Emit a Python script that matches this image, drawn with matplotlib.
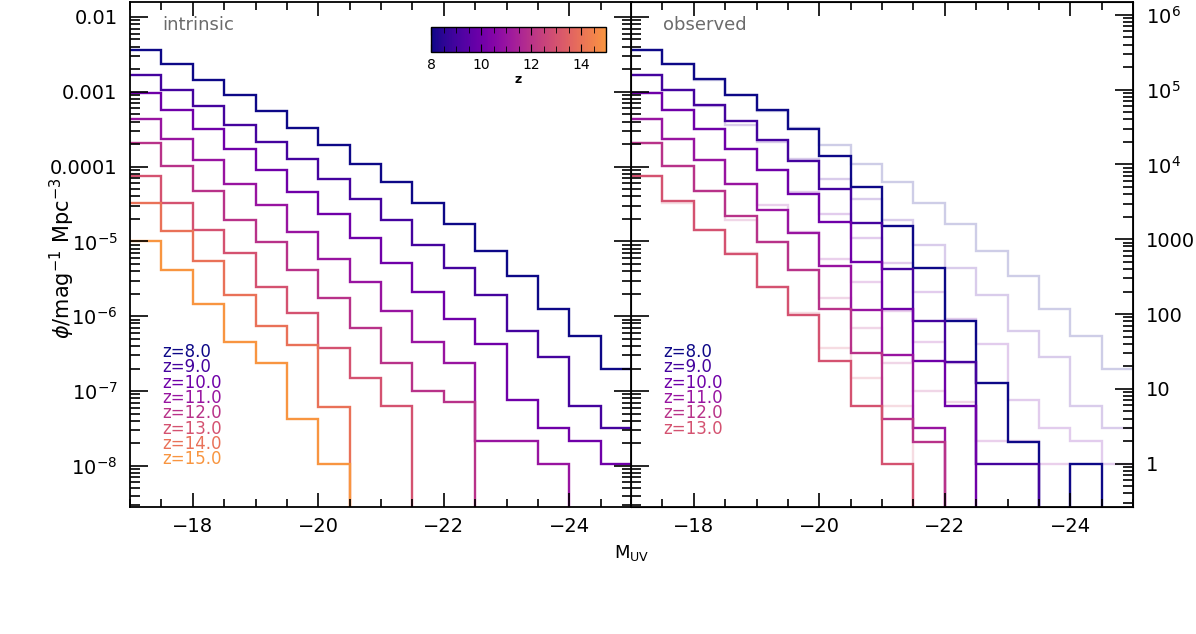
import numpy as np
import matplotlib
matplotlib.use("Agg")
import matplotlib.pyplot as plt
from matplotlib.colors import LinearSegmentedColormap, Normalize
from matplotlib.ticker import FixedLocator, MultipleLocator, NullFormatter

# 0.5 mag bins from M_UV = -17 to -25
edges = -17 - 0.5 * np.arange(17)
redshifts = [8, 9, 10, 11, 12, 13, 14, 15]

# log10 phi [mag^-1 Mpc^-3] per bin, None = empty bin
intr_z8 = [-2.44, -2.63, -2.84, -3.04, -3.26, -3.49, -3.71, -3.96, -4.21, -4.48, -4.77, -5.13, -5.46, -5.90, -6.26, -6.71]
intr_z9 = [-2.77, -2.98, -3.19, -3.44, -3.67, -3.90, -4.17, -4.43, -4.72, -5.05, -5.36, -5.72, -6.20, -6.54, -7.20, -7.50]
intr_z10 = [-3.01, -3.25, -3.50, -3.77, -4.05, -4.34, -4.64, -4.95, -5.29, -5.67, -6.04, -6.37, -7.12, -7.50, -7.67, -7.97]
intr_z11 = [-3.37, -3.63, -3.91, -4.23, -4.51, -4.87, -5.23, -5.54, -5.93, -6.35, -6.62, -7.67, -7.67, -7.97, None, None]
intr_z12 = [-3.69, -3.99, -4.33, -4.72, -5.01, -5.38, -5.75, -6.16, -6.62, -7.00, -7.14, None, None, None, None, None]
intr_z13 = [-4.12, -4.48, -4.85, -5.16, -5.61, -5.96, -6.42, -6.82, -7.20, None, None, None, None, None, None, None]
intr_z14 = [-4.48, -4.86, -5.26, -5.72, -6.13, -6.38, -7.21, None, None, None, None, None, None, None, None, None]
intr_z15 = [-4.99, -5.38, -5.84, -6.34, -6.62, -7.37, -7.97, None, None, None, None, None, None, None, None, None]

obs_z8 = [-2.44, -2.63, -2.83, -3.04, -3.25, -3.50, -3.86, -4.27, -4.80, -5.36, -6.06, -6.89, -7.68, None, -7.97, None]
obs_z9 = [-2.77, -2.97, -3.18, -3.39, -3.65, -3.92, -4.30, -4.75, -5.37, -6.06, -6.61, -7.97, -7.97, None, None, None]
obs_z10 = [-3.01, -3.25, -3.50, -3.76, -4.05, -4.36, -4.74, -5.27, -5.91, -6.60, -7.20, None, None, None, None, None]
obs_z11 = [-3.37, -3.63, -3.91, -4.23, -4.58, -4.89, -5.33, -5.92, -6.52, -7.50, None, None, None, None, None, None]
obs_z12 = [-3.69, -3.99, -4.33, -4.66, -5.01, -5.38, -5.91, -6.49, -7.37, -7.68, None, None, None, None, None, None]
obs_z13 = [-4.12, -4.46, -4.85, -5.17, -5.61, -5.99, -6.60, -7.20, -7.97, None, None, None, None, None, None, None]

intrinsic = [intr_z8, intr_z9, intr_z10, intr_z11, intr_z12, intr_z13, intr_z14, intr_z15]
observed = [obs_z8, obs_z9, obs_z10, obs_z11, obs_z12, obs_z13]

count_unit = 1.07e-8  # phi of a single object in a bin

left_ticks = [1e-2, 1e-3, 1e-4, 1e-5, 1e-6, 1e-7, 1e-8]
left_labels = ["0.01", "0.001", "0.0001", r"10$^{-5}$", r"10$^{-6}$", r"10$^{-7}$", r"10$^{-8}$"]
right_ticks = [1, 10, 100, 1000, 1e4, 1e5, 1e6]
right_labels = ["1", "10", "100", "1000", r"10$^4$", r"10$^5$", r"10$^6$"]


def to_phi(vals):
    return 10.0 ** np.array([v if v is not None else -30 for v in vals], dtype=float)


cmap = LinearSegmentedColormap.from_list("plasma_cut", plt.cm.plasma(np.linspace(0, 0.75, 256)))
norm = Normalize(8, 15)

plt.rcParams["font.family"] = "DejaVu Sans"
plt.rcParams["mathtext.fontset"] = "dejavusans"

fig = plt.figure(figsize=(11.96, 6.34), dpi=100)
W, H = 1196, 634
ax_l = fig.add_axes([130 / W, 1 - 507 / H, 502 / W, 505 / H])
ax_r = fig.add_axes([631 / W, 1 - 507 / H, 502 / W, 505 / H])

ylim = (10 ** -8.55, 10 ** -1.8)

for ax in (ax_l, ax_r):
    ax.set_yscale("log")
    ax.set_xlim(-17, -25)
    ax.set_ylim(*ylim)
    ax.xaxis.set_major_locator(FixedLocator([-18, -20, -22, -24]))
    ax.xaxis.set_minor_locator(MultipleLocator(0.5))
    ax.set_xticklabels(["\u221218", "\u221220", "\u221222", "\u221224"])
    ax.yaxis.set_major_locator(FixedLocator(left_ticks))
    ax.yaxis.set_minor_locator(FixedLocator([m * 10.0 ** e for e in range(-10, -1) for m in range(2, 10)]))
    ax.yaxis.set_minor_formatter(NullFormatter())
    ax.tick_params(which="both", direction="in", top=True, right=True, labelsize=14, width=1.2)
    ax.tick_params(axis="x", which="major", length=10, pad=7)
    ax.tick_params(axis="x", which="minor", length=6)
    ax.tick_params(axis="y", which="major", length=13)
    ax.tick_params(axis="y", which="minor", length=7)
    for s in ax.spines.values():
        s.set_linewidth(1.3)

ax_l.set_yticklabels(left_labels)
ax_l.tick_params(axis="y", pad=9)
ax_r.tick_params(axis="y", labelleft=False, right=False)

# intrinsic panel
for z, vals in zip(redshifts, intrinsic):
    ax_l.stairs(to_phi(vals), edges, baseline=None, color=cmap(norm(z)), lw=1.7)

# observed panel, intrinsic shown faintly behind
for z, vals in zip(redshifts, intrinsic[:6]):
    ax_r.stairs(to_phi(vals), edges, baseline=None, color=cmap(norm(z)), lw=1.7, alpha=0.2)
for z, vals in zip(redshifts, observed):
    ax_r.stairs(to_phi(vals), edges, baseline=None, color=cmap(norm(z)), lw=1.7)

# number counts on the right
ax_n = ax_r.twinx()
ax_n.set_yscale("log")
ax_n.set_ylim(ylim[0] / count_unit, ylim[1] / count_unit)
ax_n.yaxis.set_major_locator(FixedLocator(right_ticks))
ax_n.yaxis.set_minor_locator(FixedLocator([m * 10.0 ** e for e in range(-1, 7) for m in range(2, 10)]))
ax_n.yaxis.set_minor_formatter(NullFormatter())
ax_n.set_yticklabels(right_labels)
ax_n.tick_params(which="both", direction="in", labelsize=14, width=1.2, pad=9)
ax_n.tick_params(which="major", length=13)
ax_n.tick_params(which="minor", length=7)

ax_l.text(32 / 502, 1 - 23 / 505, "intrinsic", transform=ax_l.transAxes,
          color="#6b6b6b", fontsize=13, ha="left", va="center")
ax_r.text(32 / 502, 1 - 23 / 505, "observed", transform=ax_r.transAxes,
          color="#6b6b6b", fontsize=13, ha="left", va="center")

for i, z in enumerate(redshifts):
    ax_l.text(32 / 502, 1 - (352 - 2 + 15.3 * i) / 505, f"z={z:.1f}", transform=ax_l.transAxes,
              color=cmap(norm(z)), fontsize=12, ha="left", va="center")
for i, z in enumerate(redshifts[:6]):
    ax_r.text(32 / 502, 1 - (352 - 2 + 15.3 * i) / 505, f"z={z:.1f}", transform=ax_r.transAxes,
              color=cmap(norm(z)), fontsize=12, ha="left", va="center")

# colour bar
cax = fig.add_axes([431 / W, 1 - 52 / H, 175 / W, 25 / H])
sm = plt.cm.ScalarMappable(norm=norm, cmap=cmap)
cb = fig.colorbar(sm, cax=cax, orientation="horizontal")
cb.set_ticks([8, 10, 12, 14])
cax.xaxis.set_minor_locator(MultipleLocator(0.5))
cax.tick_params(which="both", direction="in", top=True, bottom=True, labelsize=10, pad=4)
cax.tick_params(which="major", length=6)
cax.tick_params(which="minor", length=4)
cb.outline.set_linewidth(1.0)
cb.set_label("z", fontsize=9, fontweight="bold", labelpad=1)

fig.text(62 / W, 1 - 258 / H, r"$\phi$/mag$^{-1}$ Mpc$^{-3}$", rotation=90,
         ha="center", va="center", fontsize=15)
fig.text(632 / W, 1 - 553 / H, r"M$_{\rm UV}$", ha="center", va="center", fontsize=13)

fig.savefig("out.png", dpi=100)
